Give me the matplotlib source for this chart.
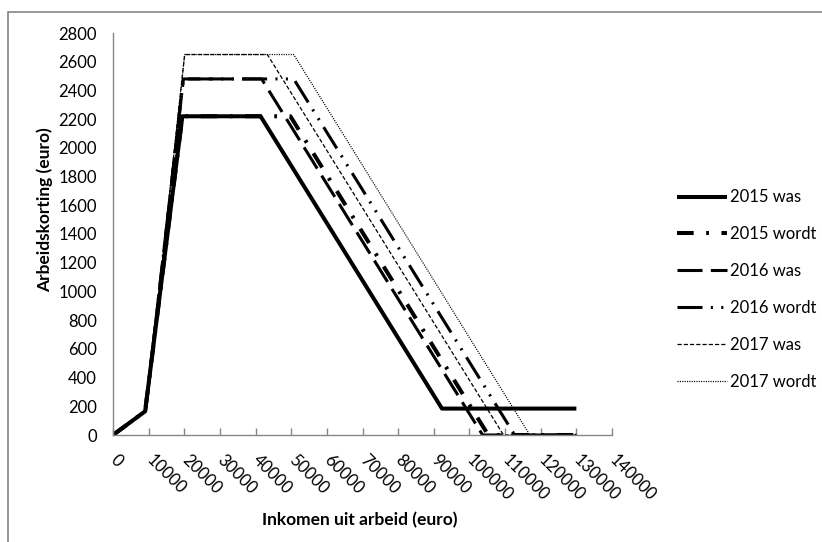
import matplotlib

matplotlib.use("Agg")
import matplotlib.pyplot as plt
from matplotlib.patches import Rectangle

plt.rcParams["font.family"] = ["Lato", "DejaVu Sans"]
plt.rcParams["lines.scale_dashes"] = False

# data (income in euro, tax credit in euro)
labels = ["2015 was", "2015 wordt", "2016 was", "2016 wordt", "2017 was", "2017 wordt"]
x_2015_was = [0, 9010, 19463, 41400, 92300, 130000]
y_2015_was = [0, 165, 2220, 2220, 184, 184]
x_2015_wordt = [0, 9010, 19463, 49770, 105270, 130000]
y_2015_wordt = [0, 165, 2220, 2220, 0, 0]
x_2016_was = [0, 9147, 19758, 41700, 103700, 130000]
y_2016_was = [0, 168, 2480, 2480, 0, 0]
x_2016_wordt = [0, 9147, 19758, 50700, 112700, 130000]
y_2016_wordt = [0, 168, 2480, 2480, 0, 0]
x_2017_was = [0, 9309, 20108, 43300, 109550, 130000]
y_2017_was = [0, 171, 2650, 2650, 0, 0]
x_2017_wordt = [0, 9309, 20108, 50700, 116950, 130000]
y_2017_wordt = [0, 171, 2650, 2650, 0, 0]
x_ticks = list(range(0, 140001, 10000))
y_ticks = list(range(0, 2801, 200))

series = [
    (x_2015_was, y_2015_was, dict(lw=2.9, ls="-")),
    (x_2015_wordt, y_2015_wordt, dict(lw=2.9, ls=(0, (12, 9, 2, 9)))),
    (x_2016_was, y_2016_was, dict(lw=2.2, ls=(0, (18, 6)))),
    (x_2016_wordt, y_2016_wordt, dict(lw=2.2, ls=(0, (18, 6, 1.5, 6, 1.5, 6)))),
    (x_2017_was, y_2017_was, dict(lw=0.9, ls=(0, (3, 1.5)))),
    (x_2017_wordt, y_2017_wordt, dict(lw=0.9, ls=(0, (0.8, 0.9)))),
]

fig = plt.figure(figsize=(8.22, 5.42), dpi=100)
ax = fig.add_axes([113 / 822, 1 - 435 / 542, 499 / 822, 402 / 542])

for (xs, ys, style), label in zip(series, labels):
    ax.plot(xs, ys, color="black", label=label, solid_capstyle="butt",
            dash_capstyle="butt", **style)

ax.set_xlim(0, 140000)
ax.set_ylim(0, 2800)
ax.set_xticks(x_ticks)
ax.set_xticklabels([str(t) for t in x_ticks], rotation=-45, ha="left",
                   va="center", rotation_mode="anchor")
ax.set_yticks(y_ticks)
ax.set_yticklabels([str(t) for t in y_ticks])

ax.tick_params(axis="x", direction="in", length=5, width=1, color="#868686",
               pad=16, labelsize=12)
ax.tick_params(axis="y", length=0, pad=11.5, labelsize=12)
for side in ("top", "right"):
    ax.spines[side].set_visible(False)
for side in ("left", "bottom"):
    ax.spines[side].set_color("#868686")
    ax.spines[side].set_linewidth(1)

ax.set_xlabel("Inkomen uit arbeid (euro)", fontsize=12.5, fontweight="bold")
ax.xaxis.label.set_va("center")
ax.xaxis.set_label_coords(0.495, -0.211)
ax.set_ylabel("Arbeidskorting (euro)", fontsize=12.5, fontweight="bold")
ax.yaxis.label.set_va("center")
ax.yaxis.set_label_coords(-0.136, 0.56)

fig.legend(loc="center left", bbox_to_anchor=(677 / 822, 1 - 289.5 / 542),
           frameon=False, fontsize=12, borderpad=0, borderaxespad=0,
           handletextpad=0.15, labelspacing=1.25, handlelength=3.0)

# chart frame around the whole plot area
fig.patches.append(Rectangle((8 / 822, -0.05), 1.0, 1 - 12 / 542 + 0.05,
                             transform=fig.transFigure, fill=False,
                             edgecolor="#868686", lw=1.2))

fig.savefig("out.png", dpi=100)
